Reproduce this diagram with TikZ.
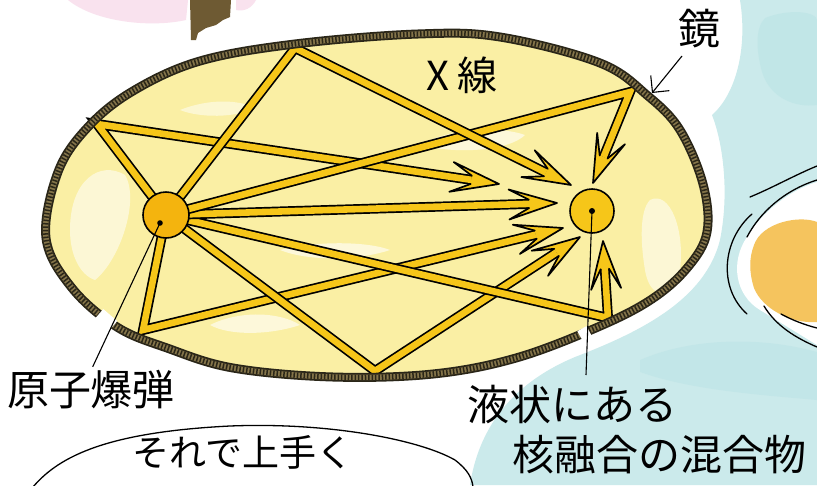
\documentclass[tikz,border=0pt]{standalone}
\usepackage{fontspec}
\newfontfamily\jpfont{Noto Sans CJK JP}
\usetikzlibrary{arrows.meta,calc}

\definecolor{rayyellow}{HTML}{F6C619}
\definecolor{bombfill}{HTML}{F4B40E}
\definecolor{mirrordark}{HTML}{2A2618}
\definecolor{mirrorrope}{HTML}{85754A}
\definecolor{chamber}{HTML}{FAEFA4}
\definecolor{wash}{HTML}{CBEAEB}
\definecolor{washdeep}{HTML}{B4E0E3}
\definecolor{peach}{HTML}{F5C45E}
\definecolor{blush}{HTML}{F9E2EE}
\definecolor{bark}{HTML}{6E5A33}

\tikzset{
  rayedge/.style={line width=10pt, black, line join=miter, miter limit=12},
  raycore/.style={line width=6.6pt, rayyellow, line join=miter, miter limit=12},
  xhead/.pic={
    \fill[rayyellow] (0,0) -- (-48,15) -- (-28,4.15) -- (-28,-4.15) -- (-48,-15) -- cycle;
    \draw[black, line width=1.7pt, line join=round, line cap=round]
      (-28,4.15) -- (-48,15) -- (0,0) -- (-48,-15) -- (-28,-4.15);
  },
  tag/.style={inner sep=0pt, font=\jpfont\fontsize{42pt}{46pt}\selectfont},
  leader/.style={line width=1.1pt, black},
  sketch/.style={line width=1.3pt, black, line cap=round},
}

% one reflected beam: source -> bounce point -> arrow tip
\newcommand\bouncebeam[3]{%
  \draw[rayedge, shorten >=28pt] (#1) -- (#2) -- (#3);
  \draw[raycore, shorten >=28pt] (#1) -- (#2) -- (#3);
  \path (#2) -- (#3) pic[pos=1, sloped, allow upside down]{xhead};
}
% one direct beam: source -> arrow tip
\newcommand\directbeam[2]{%
  \draw[rayedge, shorten >=28pt] (#1) -- (#2);
  \draw[raycore, shorten >=28pt] (#1) -- (#2);
  \path (#1) -- (#2) pic[pos=1, sloped, allow upside down]{xhead};
}

\def\chamberpath{plot[smooth cycle, tension=0.6] coordinates {
  (46,238) (58,172) (88,127) (133,91) (200,61) (295,44) (418,34) (500,37)
  (600,63) (648,96) (680,130) (703,184) (707,232) (688,267) (652,299)
  (598,327) (516,358) (433,374) (333,377) (233,368) (167,348) (117,327) (72,288)}}

\begin{document}
\begin{tikzpicture}[x=1pt,y=-1pt]
\useasboundingbox (0,0) rectangle (817,485);
\fill[white] (0,0) rectangle (817,485);

\begin{scope}
\clip (0,0) rectangle (817,485);
% watercolour wash on the right
\fill[wash] (740,0) -- (817,0) -- (817,485) -- (470,485)
  .. controls (480,420) and (520,380) .. (575,357)
  .. controls (640,332) and (705,300) .. (720,240)
  .. controls (730,190) and (722,140) .. (712,115)
  .. controls (735,95) and (748,50) .. (740,0) -- cycle;
\fill[washdeep, opacity=0.4] (765,18) .. controls (790,8) and (817,12) .. (817,20)
  -- (817,105) .. controls (795,108) and (770,98) .. (762,72) .. controls (756,50) and (755,28) .. cycle;
\fill[washdeep, opacity=0.35] (640,360) .. controls (690,338) and (760,336) .. (817,352)
  -- (817,400) .. controls (760,395) and (690,390) .. (640,372) -- cycle;
% neighbouring plate with fruit
\fill[white] (747,237) .. controls (730,262) and (735,295) .. (760,310)
  -- (817,345) -- (817,182) .. controls (790,190) and (762,212) .. (747,237);
\fill[peach] (754,245) .. controls (762,222) and (800,215) .. (817,222) -- (817,322)
  .. controls (790,324) and (762,308) .. (754,288) .. controls (749,272) and (749,258) .. cycle;
\draw[sketch] (750,197) .. controls (772,188) and (795,175) .. (817,166);
\draw[sketch] (817,180) .. controls (785,190) and (760,212) .. (747,237);
\draw[sketch] (752,214) .. controls (722,240) and (718,288) .. (747,314);
\draw[sketch] (764,306) .. controls (776,326) and (796,338) .. (817,347);
\draw[sketch] (781,314) .. controls (792,320) and (805,325) .. (817,328);
% scraps at the top left
\fill[blush] (68,0) -- (188,0) -- (186,20) .. controls (150,28) and (95,22) .. (68,0);
\fill[blush] (236,0) -- (256,0) .. controls (252,8) and (244,12) .. (236,10) -- cycle;
\fill[bark] (190,0) -- (231,0) -- (230,17) -- (223,20) -- (216,25) -- (206,28)
  -- (198,33) -- (196,40) -- (191,40) -- cycle;
\end{scope}

% the chamber
\fill[chamber] \chamberpath;
\begin{scope}
  \clip \chamberpath;
  \fill[white, opacity=0.55] (70,230) .. controls (70,180) and (100,160) .. (125,175)
    .. controls (140,200) and (120,260) .. (95,280) .. controls (80,275) and (70,255) .. cycle;
  \fill[white, opacity=0.6] (420,145) .. controls (450,128) and (500,126) .. (525,135)
    .. controls (510,150) and (460,155) .. cycle;
  \fill[white, opacity=0.6] (280,250) .. controls (320,240) and (370,242) .. (390,250)
    .. controls (360,260) and (310,262) .. cycle;
  \fill[white, opacity=0.55] (650,200) .. controls (670,190) and (685,230) .. (680,270)
    .. controls (670,300) and (650,300) .. (645,270) .. controls (640,240) and (640,210) .. cycle;
  \fill[white, opacity=0.6] (210,325) .. controls (240,310) and (280,312) .. (300,325)
    .. controls (270,335) and (230,336) .. cycle;
  \fill[white, opacity=0.5] (180,110) .. controls (210,98) and (240,100) .. (255,108)
    .. controls (235,118) and (200,118) .. cycle;
\end{scope}

% key points of the beams
\coordinate (O) at (166,215);
\coordinate (G) at (592,211);
\coordinate (T) at (295,48);
\coordinate (L) at (97,124);
\coordinate (M) at (630,92);
\coordinate (B) at (375,371);
\coordinate (BL) at (143,330);
\coordinate (BR) at (608,318);
\coordinate (tT) at (571,185);
\coordinate (tL) at (499,184);
\coordinate (tH) at (557,203);
\coordinate (tBL) at (563,228);
\coordinate (tB) at (580,237);
\coordinate (tM) at (593,183);
\coordinate (tBR) at (603,241);

\bouncebeam{O}{L}{tL}
\bouncebeam{O}{BL}{tBL}
\bouncebeam{O}{B}{tB}
\bouncebeam{O}{BR}{tBR}
\directbeam{O}{tH}
\bouncebeam{O}{M}{tM}
\bouncebeam{O}{T}{tT}

% the mirror wall
\draw[mirrordark, line width=9pt] \chamberpath;
\draw[mirrorrope, line width=5.4pt] \chamberpath;
\draw[mirrordark, line width=5.4pt, dash pattern=on 1.5pt off 1.9pt] \chamberpath;
\draw[white, line width=13pt] (99,314) -- (113,326);
\draw[white, line width=11pt] (580,336) -- (589,331);

% bomb and fuel pellet
\node[circle, draw, line width=1.6pt, fill=bombfill, minimum size=46pt, inner sep=0pt] (bomb) at (O) {};
\node[circle, draw, line width=1.6pt, fill=rayyellow, minimum size=44pt, inner sep=0pt] (fuel) at (G) {};
\coordinate (bdot) at (160,223);
\fill (bdot) circle (2.8);
\fill (fuel.center) circle (3);

% labels
\node[tag] (lbomb) at (91,390) {原子爆弾};
\node[tag] (lfuel1) at (572,405) {液状にある};
\node[tag] (lfuel2) at (659,455) {核融合の混合物};
\node[tag] (lmirror) at (699,29) {鏡};
\node[tag, font=\jpfont\fontsize{40pt}{44pt}\selectfont] (lxray) at (462,75) {X 線};
\node[tag, font=\jpfont\fontsize{37pt}{40pt}\selectfont] (speech) at (243,452) {それで上手く};

\coordinate (ffoot) at (586,375);
\coordinate (mtail) at (682,56);
\coordinate (mtip) at (652,93);
\draw[leader, shorten >=4pt] (bdot) -- (lbomb.north);
\draw[leader] (fuel.center) -- (ffoot);
\draw[leader, -{Straight Barb[length=12pt, width=24pt, line width=1.1pt]}] (mtail) -- (mtip);

% speech bubble outline
\draw[sketch] (33,487) .. controls (60,455) and (110,432) .. (230,426)
  .. controls (330,422) and (420,440) .. (455,460)
  .. controls (468,470) and (472,478) .. (473,487);
\end{tikzpicture}
\end{document}
